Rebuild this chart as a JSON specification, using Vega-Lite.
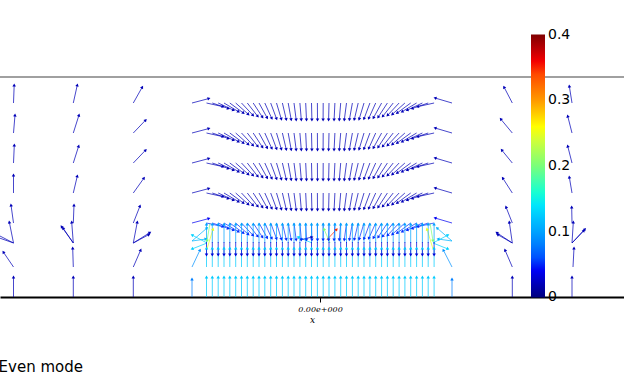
{
"$schema":"https://vega.github.io/schema/vega-lite/v6.json",
"width":624,"height":220,
"autosize":{"type":"none"},
"padding":{"left":0,"top":77,"right":0,"bottom":78},
"background":"white",
"config":{"view":{"stroke":null}},
"title":{"text":"Even mode","orient":"bottom","anchor":"start","font":"DejaVu Sans","fontSize":15,"fontWeight":"normal","color":"black","offset":36,"dx":2},
"resolve":{"axis":{"x":"independent","y":"independent"},"legend":{"color":"independent"}},
"datasets":{"arrows":[
{"x":-306.5,"y":194,"x2":-305.8,"y2":212,"m":0.02},
{"x":-306.5,"y":164,"x2":-305,"y2":182,"m":0.02},
{"x":-306.5,"y":134,"x2":-305.7,"y2":152,"m":0.02},
{"x":-306.5,"y":104,"x2":-306.5,"y2":122,"m":0.02},
{"x":-306.5,"y":74,"x2":-309,"y2":92,"m":0.02},
{"x":-306.5,"y":54,"x2":-310.7,"y2":75,"m":0.02},
{"x":-306.5,"y":54,"x2":-322,"y2":62,"m":0.02},
{"x":-306.5,"y":54,"x2":-322,"y2":59.5,"m":0.02},
{"x":-306.5,"y":30,"x2":-316.7,"y2":45,"m":0.02},
{"x":-306.5,"y":0,"x2":-306.5,"y2":20,"m":0.02},
{"x":-246.7,"y":194,"x2":-242.7,"y2":212,"m":0.02},
{"x":-246.7,"y":164,"x2":-241,"y2":182,"m":0.02},
{"x":-246.7,"y":134,"x2":-241.3,"y2":151,"m":0.02},
{"x":-246.7,"y":104,"x2":-242.7,"y2":121,"m":0.02},
{"x":-246.7,"y":74,"x2":-246,"y2":92,"m":0.02},
{"x":-246.7,"y":54,"x2":-248.3,"y2":75,"m":0.02},
{"x":-246.7,"y":54,"x2":-258.5,"y2":70.5,"m":0.02},
{"x":-246.7,"y":54,"x2":-257,"y2":69,"m":0.02},
{"x":-246.7,"y":30,"x2":-247.3,"y2":49,"m":0.02},
{"x":-246.7,"y":0,"x2":-246.7,"y2":20,"m":0.02},
{"x":-186.7,"y":194,"x2":-177.7,"y2":210,"m":0.02},
{"x":-186.7,"y":164,"x2":-174.3,"y2":177,"m":0.02},
{"x":-186.7,"y":134,"x2":-174.3,"y2":147,"m":0.02},
{"x":-186.7,"y":104,"x2":-176,"y2":119,"m":0.02},
{"x":-186.7,"y":74,"x2":-180,"y2":91,"m":0.02},
{"x":-186.7,"y":54,"x2":-182.7,"y2":75,"m":0.02},
{"x":-186.7,"y":54,"x2":-170,"y2":64.5,"m":0.02},
{"x":-186.7,"y":54,"x2":-171,"y2":62.5,"m":0.02},
{"x":-186.7,"y":30,"x2":-179.3,"y2":47,"m":0.02},
{"x":-186.7,"y":0,"x2":-186.7,"y2":20,"m":0.02},
{"x":192.3,"y":194,"x2":184,"y2":210,"m":0.02},
{"x":192.3,"y":164,"x2":180.7,"y2":178,"m":0.02},
{"x":192.3,"y":134,"x2":181.7,"y2":147,"m":0.02},
{"x":192.3,"y":104,"x2":182.7,"y2":119,"m":0.02},
{"x":192.3,"y":74,"x2":186,"y2":90,"m":0.02},
{"x":192.3,"y":54,"x2":189.3,"y2":75,"m":0.02},
{"x":192.3,"y":54,"x2":176.7,"y2":64.3,"m":0.02},
{"x":192.3,"y":54,"x2":177.5,"y2":62.5,"m":0.02},
{"x":192.3,"y":30,"x2":185,"y2":47,"m":0.02},
{"x":192.3,"y":0,"x2":192.3,"y2":20,"m":0.02},
{"x":252,"y":194,"x2":249.3,"y2":211,"m":0.02},
{"x":252,"y":164,"x2":247.7,"y2":181,"m":0.02},
{"x":252,"y":134,"x2":247.7,"y2":151,"m":0.02},
{"x":252,"y":104,"x2":249.3,"y2":120,"m":0.02},
{"x":252,"y":74,"x2":251.7,"y2":90,"m":0.02},
{"x":252,"y":54,"x2":253.3,"y2":75,"m":0.02},
{"x":252,"y":54,"x2":265,"y2":68,"m":0.02},
{"x":252,"y":54,"x2":264,"y2":66.5,"m":0.02},
{"x":253,"y":30,"x2":254,"y2":49,"m":0.02},
{"x":252,"y":0,"x2":252,"y2":20,"m":0.02},
{"x":-128,"y":194,"x2":-111,"y2":198.5,"m":0.02},
{"x":-128,"y":164,"x2":-111,"y2":168.5,"m":0.02},
{"x":-128,"y":134,"x2":-111,"y2":138.5,"m":0.02},
{"x":-128,"y":104,"x2":-111,"y2":108.5,"m":0.02},
{"x":-128,"y":74,"x2":-111,"y2":78.5,"m":0.04},
{"x":132,"y":194,"x2":115,"y2":199,"m":0.02},
{"x":132,"y":164,"x2":115,"y2":169,"m":0.02},
{"x":132,"y":134,"x2":115,"y2":139,"m":0.02},
{"x":132,"y":104,"x2":115,"y2":109,"m":0.02},
{"x":132,"y":74,"x2":115,"y2":79,"m":0.04},
{"x":-128,"y":0,"x2":-128,"y2":18,"m":0.08},
{"x":132,"y":0,"x2":132,"y2":18,"m":0.08},
{"x":-128,"y":30,"x2":-120,"y2":47,"m":0.09},
{"x":132,"y":30,"x2":123.3,"y2":47,"m":0.09},
{"x":-128,"y":56,"x2":-113,"y2":69,"m":0.11},
{"x":-128,"y":56,"x2":-114,"y2":58,"m":0.11},
{"x":132,"y":56,"x2":117,"y2":69,"m":0.11},
{"x":132,"y":56,"x2":118,"y2":58,"m":0.11},
{"x":-113,"y":48,"x2":-107,"y2":68,"m":0.25},
{"x":-110,"y":74,"x2":-113,"y2":56,"m":0.2},
{"x":113,"y":48,"x2":107,"y2":68,"m":0.25},
{"x":110,"y":74,"x2":113,"y2":56,"m":0.2},
{"x":-113,"y":54,"x2":-128,"y2":62,"m":0.13},
{"x":-113,"y":54,"x2":-128,"y2":48,"m":0.13},
{"x":113,"y":54,"x2":128,"y2":62,"m":0.13},
{"x":113,"y":54,"x2":128,"y2":48,"m":0.13},
{"x":6.7,"y":57,"x2":16.7,"y2":67.7,"m":0.35},
{"x":10,"y":54,"x2":4,"y2":68,"m":0.2},
{"x":-8,"y":54,"x2":-22,"y2":60,"m":0.13},
{"x":-20,"y":57,"x2":-8,"y2":60,"m":0.02},
{"x":-113.5,"y":194,"x2":-96.9,"y2":190.3,"m":0.02},
{"x":-107.7,"y":194,"x2":-91.6,"y2":188.5,"m":0.02},
{"x":-101.8,"y":194,"x2":-86.4,"y2":186.8,"m":0.02},
{"x":-96,"y":194,"x2":-81.4,"y2":185.3,"m":0.02},
{"x":-90.2,"y":194,"x2":-76.5,"y2":183.9,"m":0.02},
{"x":-84.3,"y":194,"x2":-71.6,"y2":182.6,"m":0.02},
{"x":-78.5,"y":194,"x2":-66.9,"y2":181.6,"m":0.02},
{"x":-72.7,"y":194,"x2":-62.2,"y2":180.6,"m":0.02},
{"x":-66.8,"y":194,"x2":-57.5,"y2":179.8,"m":0.02},
{"x":-61,"y":194,"x2":-52.8,"y2":179.1,"m":0.02},
{"x":-55.2,"y":194,"x2":-48.2,"y2":178.5,"m":0.02},
{"x":-49.3,"y":194,"x2":-43.4,"y2":178.1,"m":0.02},
{"x":-43.5,"y":194,"x2":-38.6,"y2":177.7,"m":0.02},
{"x":-37.6,"y":194,"x2":-33.7,"y2":177.4,"m":0.02},
{"x":-31.8,"y":194,"x2":-28.8,"y2":177.3,"m":0.02},
{"x":-26,"y":194,"x2":-23.8,"y2":177.1,"m":0.02},
{"x":-20.1,"y":194,"x2":-18.7,"y2":177.1,"m":0.02},
{"x":-14.3,"y":194,"x2":-13.5,"y2":177,"m":0.02},
{"x":-8.5,"y":194,"x2":-8.1,"y2":177,"m":0.02},
{"x":-2.6,"y":194,"x2":-2.5,"y2":177,"m":0.02},
{"x":3.2,"y":194,"x2":3.1,"y2":177,"m":0.02},
{"x":9,"y":194,"x2":8.6,"y2":177,"m":0.02},
{"x":14.9,"y":194,"x2":14.1,"y2":177,"m":0.02},
{"x":20.7,"y":194,"x2":19.3,"y2":177.1,"m":0.02},
{"x":26.5,"y":194,"x2":24.3,"y2":177.1,"m":0.02},
{"x":32.4,"y":194,"x2":29.4,"y2":177.3,"m":0.02},
{"x":38.2,"y":194,"x2":34.3,"y2":177.4,"m":0.02},
{"x":44,"y":194,"x2":39.1,"y2":177.7,"m":0.02},
{"x":49.9,"y":194,"x2":44,"y2":178.1,"m":0.02},
{"x":55.7,"y":194,"x2":48.7,"y2":178.5,"m":0.02},
{"x":61.6,"y":194,"x2":53.4,"y2":179.1,"m":0.02},
{"x":67.4,"y":194,"x2":58.1,"y2":179.8,"m":0.02},
{"x":73.2,"y":194,"x2":62.7,"y2":180.6,"m":0.02},
{"x":79.1,"y":194,"x2":67.5,"y2":181.6,"m":0.02},
{"x":84.9,"y":194,"x2":72.2,"y2":182.6,"m":0.02},
{"x":90.7,"y":194,"x2":77,"y2":183.9,"m":0.02},
{"x":96.6,"y":194,"x2":82,"y2":185.3,"m":0.02},
{"x":102.4,"y":194,"x2":87,"y2":186.8,"m":0.02},
{"x":108.2,"y":194,"x2":92.1,"y2":188.5,"m":0.02},
{"x":114.1,"y":194,"x2":97.5,"y2":190.3,"m":0.02},
{"x":-113.5,"y":164,"x2":-96.9,"y2":160.3,"m":0.02},
{"x":-107.7,"y":164,"x2":-91.6,"y2":158.5,"m":0.02},
{"x":-101.8,"y":164,"x2":-86.4,"y2":156.8,"m":0.02},
{"x":-96,"y":164,"x2":-81.4,"y2":155.3,"m":0.02},
{"x":-90.2,"y":164,"x2":-76.5,"y2":153.9,"m":0.02},
{"x":-84.3,"y":164,"x2":-71.6,"y2":152.6,"m":0.02},
{"x":-78.5,"y":164,"x2":-66.9,"y2":151.6,"m":0.02},
{"x":-72.7,"y":164,"x2":-62.2,"y2":150.6,"m":0.02},
{"x":-66.8,"y":164,"x2":-57.5,"y2":149.8,"m":0.02},
{"x":-61,"y":164,"x2":-52.8,"y2":149.1,"m":0.02},
{"x":-55.2,"y":164,"x2":-48.2,"y2":148.5,"m":0.02},
{"x":-49.3,"y":164,"x2":-43.4,"y2":148.1,"m":0.02},
{"x":-43.5,"y":164,"x2":-38.6,"y2":147.7,"m":0.02},
{"x":-37.6,"y":164,"x2":-33.7,"y2":147.4,"m":0.02},
{"x":-31.8,"y":164,"x2":-28.8,"y2":147.3,"m":0.02},
{"x":-26,"y":164,"x2":-23.8,"y2":147.1,"m":0.02},
{"x":-20.1,"y":164,"x2":-18.7,"y2":147.1,"m":0.02},
{"x":-14.3,"y":164,"x2":-13.5,"y2":147,"m":0.02},
{"x":-8.5,"y":164,"x2":-8.1,"y2":147,"m":0.02},
{"x":-2.6,"y":164,"x2":-2.5,"y2":147,"m":0.02},
{"x":3.2,"y":164,"x2":3.1,"y2":147,"m":0.02},
{"x":9,"y":164,"x2":8.6,"y2":147,"m":0.02},
{"x":14.9,"y":164,"x2":14.1,"y2":147,"m":0.02},
{"x":20.7,"y":164,"x2":19.3,"y2":147.1,"m":0.02},
{"x":26.5,"y":164,"x2":24.3,"y2":147.1,"m":0.02},
{"x":32.4,"y":164,"x2":29.4,"y2":147.3,"m":0.02},
{"x":38.2,"y":164,"x2":34.3,"y2":147.4,"m":0.02},
{"x":44,"y":164,"x2":39.1,"y2":147.7,"m":0.02},
{"x":49.9,"y":164,"x2":44,"y2":148.1,"m":0.02},
{"x":55.7,"y":164,"x2":48.7,"y2":148.5,"m":0.02},
{"x":61.6,"y":164,"x2":53.4,"y2":149.1,"m":0.02},
{"x":67.4,"y":164,"x2":58.1,"y2":149.8,"m":0.02},
{"x":73.2,"y":164,"x2":62.7,"y2":150.6,"m":0.02},
{"x":79.1,"y":164,"x2":67.5,"y2":151.6,"m":0.02},
{"x":84.9,"y":164,"x2":72.2,"y2":152.6,"m":0.02},
{"x":90.7,"y":164,"x2":77,"y2":153.9,"m":0.02},
{"x":96.6,"y":164,"x2":82,"y2":155.3,"m":0.02},
{"x":102.4,"y":164,"x2":87,"y2":156.8,"m":0.02},
{"x":108.2,"y":164,"x2":92.1,"y2":158.5,"m":0.02},
{"x":114.1,"y":164,"x2":97.5,"y2":160.3,"m":0.02},
{"x":-113.5,"y":134,"x2":-96.9,"y2":130.3,"m":0.02},
{"x":-107.7,"y":134,"x2":-91.6,"y2":128.5,"m":0.02},
{"x":-101.8,"y":134,"x2":-86.4,"y2":126.8,"m":0.02},
{"x":-96,"y":134,"x2":-81.4,"y2":125.3,"m":0.02},
{"x":-90.2,"y":134,"x2":-76.5,"y2":123.9,"m":0.02},
{"x":-84.3,"y":134,"x2":-71.6,"y2":122.6,"m":0.02},
{"x":-78.5,"y":134,"x2":-66.9,"y2":121.6,"m":0.02},
{"x":-72.7,"y":134,"x2":-62.2,"y2":120.6,"m":0.02},
{"x":-66.8,"y":134,"x2":-57.5,"y2":119.8,"m":0.02},
{"x":-61,"y":134,"x2":-52.8,"y2":119.1,"m":0.02},
{"x":-55.2,"y":134,"x2":-48.2,"y2":118.5,"m":0.02},
{"x":-49.3,"y":134,"x2":-43.4,"y2":118.1,"m":0.02},
{"x":-43.5,"y":134,"x2":-38.6,"y2":117.7,"m":0.02},
{"x":-37.6,"y":134,"x2":-33.7,"y2":117.4,"m":0.02},
{"x":-31.8,"y":134,"x2":-28.8,"y2":117.3,"m":0.02},
{"x":-26,"y":134,"x2":-23.8,"y2":117.1,"m":0.02},
{"x":-20.1,"y":134,"x2":-18.7,"y2":117.1,"m":0.02},
{"x":-14.3,"y":134,"x2":-13.5,"y2":117,"m":0.02},
{"x":-8.5,"y":134,"x2":-8.1,"y2":117,"m":0.02},
{"x":-2.6,"y":134,"x2":-2.5,"y2":117,"m":0.02},
{"x":3.2,"y":134,"x2":3.1,"y2":117,"m":0.02},
{"x":9,"y":134,"x2":8.6,"y2":117,"m":0.02},
{"x":14.9,"y":134,"x2":14.1,"y2":117,"m":0.02},
{"x":20.7,"y":134,"x2":19.3,"y2":117.1,"m":0.02},
{"x":26.5,"y":134,"x2":24.3,"y2":117.1,"m":0.02},
{"x":32.4,"y":134,"x2":29.4,"y2":117.3,"m":0.02},
{"x":38.2,"y":134,"x2":34.3,"y2":117.4,"m":0.02},
{"x":44,"y":134,"x2":39.1,"y2":117.7,"m":0.02},
{"x":49.9,"y":134,"x2":44,"y2":118.1,"m":0.02},
{"x":55.7,"y":134,"x2":48.7,"y2":118.5,"m":0.02},
{"x":61.6,"y":134,"x2":53.4,"y2":119.1,"m":0.02},
{"x":67.4,"y":134,"x2":58.1,"y2":119.8,"m":0.02},
{"x":73.2,"y":134,"x2":62.7,"y2":120.6,"m":0.02},
{"x":79.1,"y":134,"x2":67.5,"y2":121.6,"m":0.02},
{"x":84.9,"y":134,"x2":72.2,"y2":122.6,"m":0.02},
{"x":90.7,"y":134,"x2":77,"y2":123.9,"m":0.02},
{"x":96.6,"y":134,"x2":82,"y2":125.3,"m":0.02},
{"x":102.4,"y":134,"x2":87,"y2":126.8,"m":0.02},
{"x":108.2,"y":134,"x2":92.1,"y2":128.5,"m":0.02},
{"x":114.1,"y":134,"x2":97.5,"y2":130.3,"m":0.02},
{"x":-113.5,"y":104,"x2":-96.9,"y2":100.3,"m":0.02},
{"x":-107.7,"y":104,"x2":-91.6,"y2":98.5,"m":0.02},
{"x":-101.8,"y":104,"x2":-86.4,"y2":96.8,"m":0.02},
{"x":-96,"y":104,"x2":-81.4,"y2":95.3,"m":0.02},
{"x":-90.2,"y":104,"x2":-76.5,"y2":93.9,"m":0.02},
{"x":-84.3,"y":104,"x2":-71.6,"y2":92.6,"m":0.02},
{"x":-78.5,"y":104,"x2":-66.9,"y2":91.6,"m":0.02},
{"x":-72.7,"y":104,"x2":-62.2,"y2":90.6,"m":0.02},
{"x":-66.8,"y":104,"x2":-57.5,"y2":89.8,"m":0.02},
{"x":-61,"y":104,"x2":-52.8,"y2":89.1,"m":0.02},
{"x":-55.2,"y":104,"x2":-48.2,"y2":88.5,"m":0.02},
{"x":-49.3,"y":104,"x2":-43.4,"y2":88.1,"m":0.02},
{"x":-43.5,"y":104,"x2":-38.6,"y2":87.7,"m":0.02},
{"x":-37.6,"y":104,"x2":-33.7,"y2":87.4,"m":0.02},
{"x":-31.8,"y":104,"x2":-28.8,"y2":87.3,"m":0.02},
{"x":-26,"y":104,"x2":-23.8,"y2":87.1,"m":0.02},
{"x":-20.1,"y":104,"x2":-18.7,"y2":87.1,"m":0.02},
{"x":-14.3,"y":104,"x2":-13.5,"y2":87,"m":0.02},
{"x":-8.5,"y":104,"x2":-8.1,"y2":87,"m":0.02},
{"x":-2.6,"y":104,"x2":-2.5,"y2":87,"m":0.02},
{"x":3.2,"y":104,"x2":3.1,"y2":87,"m":0.02},
{"x":9,"y":104,"x2":8.6,"y2":87,"m":0.02},
{"x":14.9,"y":104,"x2":14.1,"y2":87,"m":0.02},
{"x":20.7,"y":104,"x2":19.3,"y2":87.1,"m":0.02},
{"x":26.5,"y":104,"x2":24.3,"y2":87.1,"m":0.02},
{"x":32.4,"y":104,"x2":29.4,"y2":87.3,"m":0.02},
{"x":38.2,"y":104,"x2":34.3,"y2":87.4,"m":0.02},
{"x":44,"y":104,"x2":39.1,"y2":87.7,"m":0.02},
{"x":49.9,"y":104,"x2":44,"y2":88.1,"m":0.02},
{"x":55.7,"y":104,"x2":48.7,"y2":88.5,"m":0.02},
{"x":61.6,"y":104,"x2":53.4,"y2":89.1,"m":0.02},
{"x":67.4,"y":104,"x2":58.1,"y2":89.8,"m":0.02},
{"x":73.2,"y":104,"x2":62.7,"y2":90.6,"m":0.02},
{"x":79.1,"y":104,"x2":67.5,"y2":91.6,"m":0.02},
{"x":84.9,"y":104,"x2":72.2,"y2":92.6,"m":0.02},
{"x":90.7,"y":104,"x2":77,"y2":93.9,"m":0.02},
{"x":96.6,"y":104,"x2":82,"y2":95.3,"m":0.02},
{"x":102.4,"y":104,"x2":87,"y2":96.8,"m":0.02},
{"x":108.2,"y":104,"x2":92.1,"y2":98.5,"m":0.02},
{"x":114.1,"y":104,"x2":97.5,"y2":100.3,"m":0.02},
{"x":-113.5,"y":74,"x2":-96.9,"y2":70.3,"m":0.05},
{"x":-107.7,"y":74,"x2":-91.6,"y2":68.5,"m":0.05},
{"x":-101.8,"y":74,"x2":-86.4,"y2":66.8,"m":0.05},
{"x":-96,"y":74,"x2":-81.4,"y2":65.3,"m":0.05},
{"x":-90.2,"y":74,"x2":-76.5,"y2":63.9,"m":0.05},
{"x":-84.3,"y":74,"x2":-71.6,"y2":62.6,"m":0.05},
{"x":-78.5,"y":74,"x2":-66.9,"y2":61.6,"m":0.05},
{"x":-72.7,"y":74,"x2":-62.2,"y2":60.6,"m":0.05},
{"x":-66.8,"y":74,"x2":-57.5,"y2":59.8,"m":0.05},
{"x":-61,"y":74,"x2":-52.8,"y2":59.1,"m":0.05},
{"x":-55.2,"y":74,"x2":-48.2,"y2":58.5,"m":0.05},
{"x":-49.3,"y":74,"x2":-43.4,"y2":58.1,"m":0.05},
{"x":-43.5,"y":74,"x2":-38.6,"y2":57.7,"m":0.05},
{"x":-37.6,"y":74,"x2":-33.7,"y2":57.4,"m":0.05},
{"x":-31.8,"y":74,"x2":-28.8,"y2":57.3,"m":0.05},
{"x":-26,"y":74,"x2":-23.8,"y2":57.1,"m":0.05},
{"x":-20.1,"y":74,"x2":-18.7,"y2":57.1,"m":0.05},
{"x":-14.3,"y":74,"x2":-13.5,"y2":57,"m":0.05},
{"x":-8.5,"y":74,"x2":-8.1,"y2":57,"m":0.05},
{"x":-2.6,"y":74,"x2":-2.5,"y2":57,"m":0.05},
{"x":3.2,"y":74,"x2":3.1,"y2":57,"m":0.05},
{"x":9,"y":74,"x2":8.6,"y2":57,"m":0.05},
{"x":14.9,"y":74,"x2":14.1,"y2":57,"m":0.05},
{"x":20.7,"y":74,"x2":19.3,"y2":57.1,"m":0.05},
{"x":26.5,"y":74,"x2":24.3,"y2":57.1,"m":0.05},
{"x":32.4,"y":74,"x2":29.4,"y2":57.3,"m":0.05},
{"x":38.2,"y":74,"x2":34.3,"y2":57.4,"m":0.05},
{"x":44,"y":74,"x2":39.1,"y2":57.7,"m":0.05},
{"x":49.9,"y":74,"x2":44,"y2":58.1,"m":0.05},
{"x":55.7,"y":74,"x2":48.7,"y2":58.5,"m":0.05},
{"x":61.6,"y":74,"x2":53.4,"y2":59.1,"m":0.05},
{"x":67.4,"y":74,"x2":58.1,"y2":59.8,"m":0.05},
{"x":73.2,"y":74,"x2":62.7,"y2":60.6,"m":0.05},
{"x":79.1,"y":74,"x2":67.5,"y2":61.6,"m":0.05},
{"x":84.9,"y":74,"x2":72.2,"y2":62.6,"m":0.05},
{"x":90.7,"y":74,"x2":77,"y2":63.9,"m":0.05},
{"x":96.6,"y":74,"x2":82,"y2":65.3,"m":0.05},
{"x":102.4,"y":74,"x2":87,"y2":66.8,"m":0.05},
{"x":108.2,"y":74,"x2":92.1,"y2":68.5,"m":0.05},
{"x":114.1,"y":74,"x2":97.5,"y2":70.3,"m":0.05},
{"x":-113.5,"y":0,"x2":-113.5,"y2":20,"m":0.125},
{"x":-107.7,"y":0,"x2":-107.7,"y2":20,"m":0.125},
{"x":-101.8,"y":0,"x2":-101.8,"y2":20,"m":0.125},
{"x":-96,"y":0,"x2":-96,"y2":20,"m":0.125},
{"x":-90.2,"y":0,"x2":-90.2,"y2":20,"m":0.125},
{"x":-84.3,"y":0,"x2":-84.3,"y2":20,"m":0.125},
{"x":-78.5,"y":0,"x2":-78.5,"y2":20,"m":0.125},
{"x":-72.7,"y":0,"x2":-72.7,"y2":20,"m":0.125},
{"x":-66.8,"y":0,"x2":-66.8,"y2":20,"m":0.125},
{"x":-61,"y":0,"x2":-61,"y2":20,"m":0.125},
{"x":-55.2,"y":0,"x2":-55.2,"y2":20,"m":0.125},
{"x":-49.3,"y":0,"x2":-49.3,"y2":20,"m":0.125},
{"x":-43.5,"y":0,"x2":-43.5,"y2":20,"m":0.125},
{"x":-37.6,"y":0,"x2":-37.6,"y2":20,"m":0.125},
{"x":-31.8,"y":0,"x2":-31.8,"y2":20,"m":0.125},
{"x":-26,"y":0,"x2":-26,"y2":20,"m":0.125},
{"x":-20.1,"y":0,"x2":-20.1,"y2":20,"m":0.125},
{"x":-14.3,"y":0,"x2":-14.3,"y2":20,"m":0.125},
{"x":-8.5,"y":0,"x2":-8.5,"y2":20,"m":0.125},
{"x":-2.6,"y":0,"x2":-2.6,"y2":20,"m":0.125},
{"x":3.2,"y":0,"x2":3.2,"y2":20,"m":0.125},
{"x":9,"y":0,"x2":9,"y2":20,"m":0.125},
{"x":14.9,"y":0,"x2":14.9,"y2":20,"m":0.125},
{"x":20.7,"y":0,"x2":20.7,"y2":20,"m":0.125},
{"x":26.5,"y":0,"x2":26.5,"y2":20,"m":0.125},
{"x":32.4,"y":0,"x2":32.4,"y2":20,"m":0.125},
{"x":38.2,"y":0,"x2":38.2,"y2":20,"m":0.125},
{"x":44,"y":0,"x2":44,"y2":20,"m":0.125},
{"x":49.9,"y":0,"x2":49.9,"y2":20,"m":0.125},
{"x":55.7,"y":0,"x2":55.7,"y2":20,"m":0.125},
{"x":61.6,"y":0,"x2":61.6,"y2":20,"m":0.125},
{"x":67.4,"y":0,"x2":67.4,"y2":20,"m":0.125},
{"x":73.2,"y":0,"x2":73.2,"y2":20,"m":0.125},
{"x":79.1,"y":0,"x2":79.1,"y2":20,"m":0.125},
{"x":84.9,"y":0,"x2":84.9,"y2":20,"m":0.125},
{"x":90.7,"y":0,"x2":90.7,"y2":20,"m":0.125},
{"x":96.6,"y":0,"x2":96.6,"y2":20,"m":0.125},
{"x":102.4,"y":0,"x2":102.4,"y2":20,"m":0.125},
{"x":108.2,"y":0,"x2":108.2,"y2":20,"m":0.125},
{"x":114.1,"y":0,"x2":114.1,"y2":20,"m":0.125},
{"x":-113.5,"y":30,"x2":-113.5,"y2":49,"m":0.125},
{"x":-107.7,"y":30,"x2":-107.7,"y2":49,"m":0.125},
{"x":-101.8,"y":30,"x2":-101.8,"y2":49,"m":0.125},
{"x":-96,"y":30,"x2":-96,"y2":49,"m":0.125},
{"x":-90.2,"y":30,"x2":-90.2,"y2":49,"m":0.125},
{"x":-84.3,"y":30,"x2":-84.3,"y2":49,"m":0.125},
{"x":-78.5,"y":30,"x2":-78.5,"y2":49,"m":0.125},
{"x":-72.7,"y":30,"x2":-72.7,"y2":49,"m":0.125},
{"x":-66.8,"y":30,"x2":-66.8,"y2":49,"m":0.125},
{"x":-61,"y":30,"x2":-61,"y2":49,"m":0.125},
{"x":-55.2,"y":30,"x2":-55.2,"y2":49,"m":0.125},
{"x":-49.3,"y":30,"x2":-49.3,"y2":49,"m":0.125},
{"x":-43.5,"y":30,"x2":-43.5,"y2":49,"m":0.125},
{"x":-37.6,"y":30,"x2":-37.6,"y2":49,"m":0.125},
{"x":-31.8,"y":30,"x2":-31.8,"y2":49,"m":0.125},
{"x":-26,"y":30,"x2":-26,"y2":49,"m":0.125},
{"x":-20.1,"y":30,"x2":-20.1,"y2":49,"m":0.125},
{"x":-14.3,"y":30,"x2":-14.3,"y2":49,"m":0.125},
{"x":-8.5,"y":30,"x2":-8.5,"y2":49,"m":0.125},
{"x":-2.6,"y":30,"x2":-2.6,"y2":49,"m":0.125},
{"x":3.2,"y":30,"x2":3.2,"y2":49,"m":0.125},
{"x":9,"y":30,"x2":9,"y2":49,"m":0.125},
{"x":14.9,"y":30,"x2":14.9,"y2":49,"m":0.125},
{"x":20.7,"y":30,"x2":20.7,"y2":49,"m":0.125},
{"x":26.5,"y":30,"x2":26.5,"y2":49,"m":0.125},
{"x":32.4,"y":30,"x2":32.4,"y2":49,"m":0.125},
{"x":38.2,"y":30,"x2":38.2,"y2":49,"m":0.125},
{"x":44,"y":30,"x2":44,"y2":49,"m":0.125},
{"x":49.9,"y":30,"x2":49.9,"y2":49,"m":0.125},
{"x":55.7,"y":30,"x2":55.7,"y2":49,"m":0.125},
{"x":61.6,"y":30,"x2":61.6,"y2":49,"m":0.125},
{"x":67.4,"y":30,"x2":67.4,"y2":49,"m":0.125},
{"x":73.2,"y":30,"x2":73.2,"y2":49,"m":0.125},
{"x":79.1,"y":30,"x2":79.1,"y2":49,"m":0.125},
{"x":84.9,"y":30,"x2":84.9,"y2":49,"m":0.125},
{"x":90.7,"y":30,"x2":90.7,"y2":49,"m":0.125},
{"x":96.6,"y":30,"x2":96.6,"y2":49,"m":0.125},
{"x":102.4,"y":30,"x2":102.4,"y2":49,"m":0.125},
{"x":108.2,"y":30,"x2":108.2,"y2":49,"m":0.125},
{"x":114.1,"y":30,"x2":114.1,"y2":49,"m":0.125},
{"x":-113.5,"y":54,"x2":-113.5,"y2":73,"m":0.1},
{"x":-107.7,"y":54,"x2":-107.7,"y2":73,"m":0.1},
{"x":-101.8,"y":54,"x2":-101.8,"y2":73,"m":0.1},
{"x":-96,"y":54,"x2":-96,"y2":73,"m":0.1},
{"x":-90.2,"y":54,"x2":-90.2,"y2":73,"m":0.1},
{"x":-84.3,"y":54,"x2":-84.3,"y2":73,"m":0.1},
{"x":-78.5,"y":54,"x2":-78.5,"y2":73,"m":0.1},
{"x":-72.7,"y":54,"x2":-72.7,"y2":73,"m":0.1},
{"x":-66.8,"y":54,"x2":-66.8,"y2":73,"m":0.1},
{"x":-61,"y":54,"x2":-61,"y2":73,"m":0.1},
{"x":-55.2,"y":54,"x2":-55.2,"y2":73,"m":0.1},
{"x":-49.3,"y":54,"x2":-49.3,"y2":73,"m":0.1},
{"x":-43.5,"y":54,"x2":-43.5,"y2":73,"m":0.1},
{"x":-37.6,"y":54,"x2":-37.6,"y2":73,"m":0.1},
{"x":-31.8,"y":54,"x2":-31.8,"y2":73,"m":0.1},
{"x":-26,"y":54,"x2":-26,"y2":73,"m":0.1},
{"x":-20.1,"y":54,"x2":-20.1,"y2":73,"m":0.1},
{"x":-14.3,"y":54,"x2":-14.3,"y2":73,"m":0.1},
{"x":-8.5,"y":54,"x2":-8.5,"y2":73,"m":0.1},
{"x":-2.6,"y":54,"x2":-2.6,"y2":73,"m":0.1},
{"x":3.2,"y":54,"x2":3.2,"y2":73,"m":0.1},
{"x":9,"y":54,"x2":9,"y2":73,"m":0.1},
{"x":14.9,"y":54,"x2":14.9,"y2":73,"m":0.1},
{"x":20.7,"y":54,"x2":20.7,"y2":73,"m":0.1},
{"x":26.5,"y":54,"x2":26.5,"y2":73,"m":0.1},
{"x":32.4,"y":54,"x2":32.4,"y2":73,"m":0.1},
{"x":38.2,"y":54,"x2":38.2,"y2":73,"m":0.1},
{"x":44,"y":54,"x2":44,"y2":73,"m":0.1},
{"x":49.9,"y":54,"x2":49.9,"y2":73,"m":0.1},
{"x":55.7,"y":54,"x2":55.7,"y2":73,"m":0.1},
{"x":61.6,"y":54,"x2":61.6,"y2":73,"m":0.1},
{"x":67.4,"y":54,"x2":67.4,"y2":73,"m":0.1},
{"x":73.2,"y":54,"x2":73.2,"y2":73,"m":0.1},
{"x":79.1,"y":54,"x2":79.1,"y2":73,"m":0.1},
{"x":84.9,"y":54,"x2":84.9,"y2":73,"m":0.1},
{"x":90.7,"y":54,"x2":90.7,"y2":73,"m":0.1},
{"x":96.6,"y":54,"x2":96.6,"y2":73,"m":0.1},
{"x":102.4,"y":54,"x2":102.4,"y2":73,"m":0.1},
{"x":108.2,"y":54,"x2":108.2,"y2":73,"m":0.1},
{"x":114.1,"y":54,"x2":114.1,"y2":73,"m":0.1},
{"x":-113.5,"y":55,"x2":-113.5,"y2":42,"m":0.03},
{"x":-107.7,"y":55,"x2":-107.7,"y2":42,"m":0.03},
{"x":-101.8,"y":55,"x2":-101.8,"y2":42,"m":0.03},
{"x":-96,"y":55,"x2":-96,"y2":42,"m":0.03},
{"x":-90.2,"y":55,"x2":-90.2,"y2":42,"m":0.03},
{"x":-84.3,"y":55,"x2":-84.3,"y2":42,"m":0.03},
{"x":-78.5,"y":55,"x2":-78.5,"y2":42,"m":0.03},
{"x":-72.7,"y":55,"x2":-72.7,"y2":42,"m":0.03},
{"x":-66.8,"y":55,"x2":-66.8,"y2":42,"m":0.03},
{"x":-61,"y":55,"x2":-61,"y2":42,"m":0.03},
{"x":-55.2,"y":55,"x2":-55.2,"y2":42,"m":0.03},
{"x":-49.3,"y":55,"x2":-49.3,"y2":42,"m":0.03},
{"x":-43.5,"y":55,"x2":-43.5,"y2":42,"m":0.03},
{"x":-37.6,"y":55,"x2":-37.6,"y2":42,"m":0.03},
{"x":-31.8,"y":55,"x2":-31.8,"y2":42,"m":0.03},
{"x":-26,"y":55,"x2":-26,"y2":42,"m":0.03},
{"x":-20.1,"y":55,"x2":-20.1,"y2":42,"m":0.03},
{"x":-14.3,"y":55,"x2":-14.3,"y2":42,"m":0.03},
{"x":-8.5,"y":55,"x2":-8.5,"y2":42,"m":0.03},
{"x":-2.6,"y":55,"x2":-2.6,"y2":42,"m":0.03},
{"x":3.2,"y":55,"x2":3.2,"y2":42,"m":0.03},
{"x":9,"y":55,"x2":9,"y2":42,"m":0.03},
{"x":14.9,"y":55,"x2":14.9,"y2":42,"m":0.03},
{"x":20.7,"y":55,"x2":20.7,"y2":42,"m":0.03},
{"x":26.5,"y":55,"x2":26.5,"y2":42,"m":0.03},
{"x":32.4,"y":55,"x2":32.4,"y2":42,"m":0.03},
{"x":38.2,"y":55,"x2":38.2,"y2":42,"m":0.03},
{"x":44,"y":55,"x2":44,"y2":42,"m":0.03},
{"x":49.9,"y":55,"x2":49.9,"y2":42,"m":0.03},
{"x":55.7,"y":55,"x2":55.7,"y2":42,"m":0.03},
{"x":61.6,"y":55,"x2":61.6,"y2":42,"m":0.03},
{"x":67.4,"y":55,"x2":67.4,"y2":42,"m":0.03},
{"x":73.2,"y":55,"x2":73.2,"y2":42,"m":0.03},
{"x":79.1,"y":55,"x2":79.1,"y2":42,"m":0.03},
{"x":84.9,"y":55,"x2":84.9,"y2":42,"m":0.03},
{"x":90.7,"y":55,"x2":90.7,"y2":42,"m":0.03},
{"x":96.6,"y":55,"x2":96.6,"y2":42,"m":0.03},
{"x":102.4,"y":55,"x2":102.4,"y2":42,"m":0.03},
{"x":108.2,"y":55,"x2":108.2,"y2":42,"m":0.03},
{"x":114.1,"y":55,"x2":114.1,"y2":42,"m":0.03}
]},
"layer":[
{"data":{"name":"arrows"},
 "mark":{"type":"rule","strokeWidth":0.9,"strokeOpacity":0.8},
 "encoding":{
  "x":{"field":"x","type":"quantitative","scale":{"domain":[-320,304],"nice":false,"zero":false},
   "axis":{"values":[0],"labelExpr":"'0.00e+000'","title":"x","grid":false,"domainColor":"black","domainWidth":2,"tickColor":"black","tickSize":5,"tickWidth":1,"labelFont":"DejaVu Serif","labelFontStyle":"italic","labelFontSize":8,"labelColor":"black","labelPadding":3,"titleFont":"DejaVu Serif","titleFontStyle":"italic","titleFontWeight":"normal","titleFontSize":9,"titleColor":"black","titlePadding":2}},
  "y":{"field":"y","type":"quantitative","scale":{"domain":[0,220],"nice":false,"zero":false},"axis":null},
  "x2":{"field":"x2"},
  "y2":{"field":"y2"},
  "color":{"field":"m","type":"quantitative",
   "scale":{"domain":[-0.0006,0.044,0.136,0.15,0.2,0.26,0.308,0.356,0.4006],"range":["#00007f","#0000ff","#00dbff","#14ffe2","#7aff7a","#ffff00","#ff8500","#ff0000","#800000"]},
   "legend":{"type":"gradient","orient":"none","legendX":531,"legendY":-42.4,"direction":"vertical","gradientLength":262.8,"gradientThickness":14,"title":null,"values":[0,0.1,0.2,0.3,0.4],"labelExpr":"datum.value == 0 ? '0' : format(datum.value, '.1f')","labelFont":"DejaVu Sans","labelFontSize":14,"labelColor":"black","labelOffset":3,"gradientStrokeWidth":0,"labelOverlap":false}}
 }},
{"data":{"name":"arrows"},
 "mark":{"type":"point","shape":"triangle-up","filled":true,"size":12,"opacity":1,"angle":{"expr":"atan2(datum.x2-datum.x, datum.y2-datum.y)*180/PI"}},
 "encoding":{
  "x":{"field":"x2","type":"quantitative","axis":null},
  "y":{"field":"y2","type":"quantitative","axis":null},
  "color":{"field":"m","type":"quantitative","legend":null}
 }},
{"data":{"values":[{}]},
 "mark":{"type":"rule","color":"#808080","strokeWidth":1.5},
 "encoding":{"y":{"datum":220,"type":"quantitative","axis":null}}}
]
}
